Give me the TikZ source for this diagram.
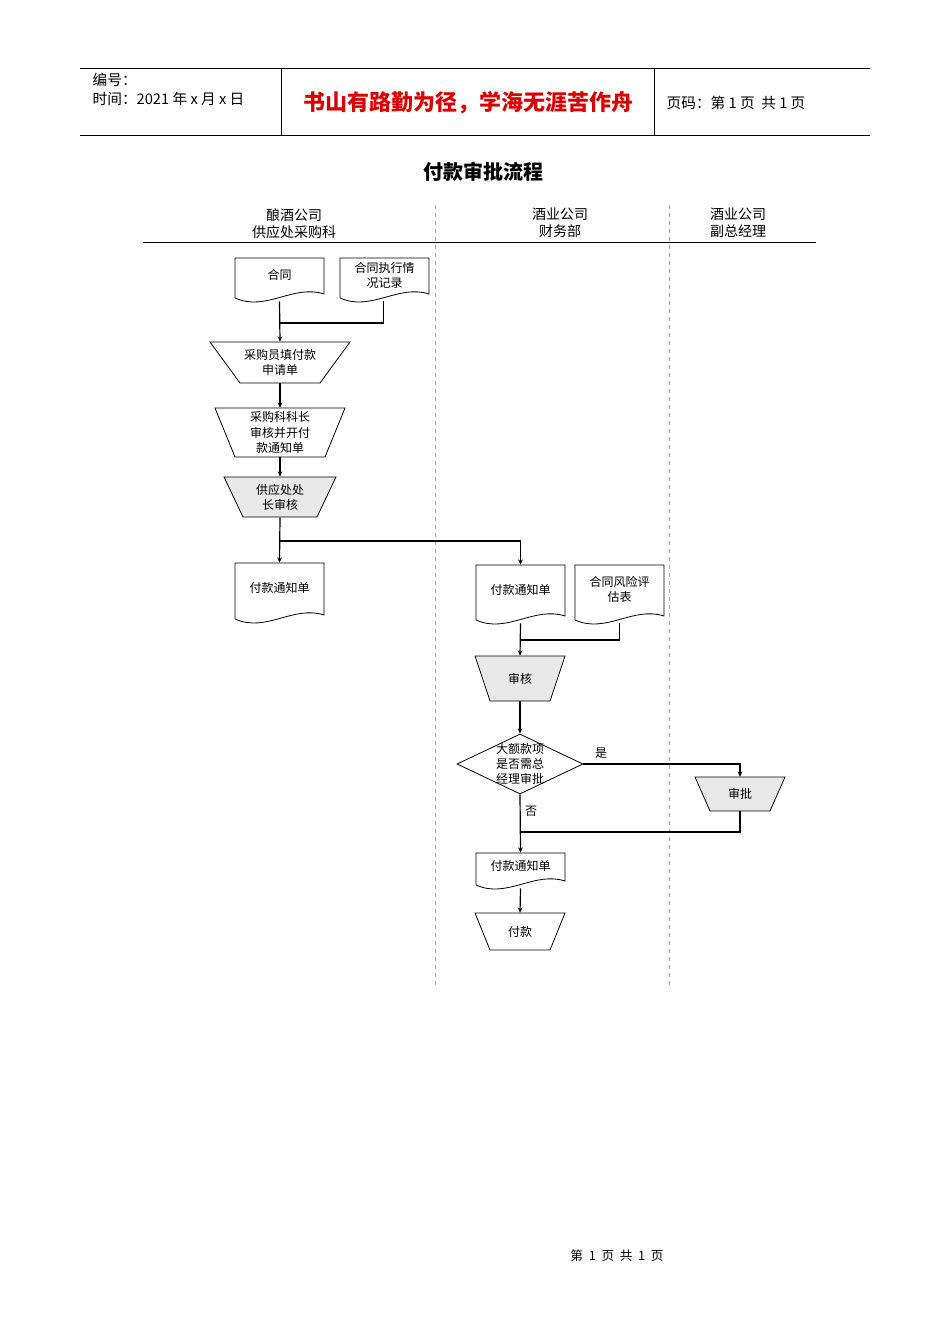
\documentclass[tikz,border=0pt]{standalone}
\usepackage{fontspec}
\setmainfont{Noto Sans CJK SC}
\usetikzlibrary{arrows.meta,shapes.geometric}
\definecolor{shade}{RGB}{232,232,232}
\tikzset{
  box/.style={inner sep=0pt,align=center,font=\fontsize{9}{11.3}\selectfont},
  outline/.style={draw=black,line width=0.6pt},
  conn/.style={draw=black,line width=0.9pt},
  arr/.style={conn,-{Stealth[length=4pt,width=3.5pt]}},
  lane/.style={draw=gray!70,dashed,line width=0.5pt},
  hdr/.style={align=center,font=\fontsize{10.5}{12.5}\selectfont},
}
% doc: name x1 y1 x2 y2 text
\newcommand\mydoc[6]{%
  \path[outline,fill=white] (#2,#3) -- (#4,#3) -- (#4,#5-8)
    .. controls ({#2+0.65*(#4-#2)},#5-18) and ({#2+0.35*(#4-#2)},#5+10) .. (#2,#5-4) -- cycle;
  \node[box,minimum width={(#4-#2)*0.75pt},minimum height={(#5-#3-1)*0.75pt}] (#1) at ({(#2+#4)/2},{(#3+#5-1)/2}) {};
  \node[box] at ({(#2+#4)/2},{(#3+#5)/2-5}) {#6};}
% trap: name cx ytop ybot halftop halfbot fill text
\newcommand\mytrap[8]{%
  \path[outline,fill=#7] (#2-#5,#3) -- (#2+#5,#3) -- (#2+#6,#4) -- (#2-#6,#4) -- cycle;
  \node[box,minimum width={2*#6*0.75pt},minimum height={(#4-#3)*0.75pt}] (#1) at (#2,{(#3+#4)/2}) {#8};}
\begin{document}
\begin{tikzpicture}[x=0.75pt,y=-0.75pt]
\useasboundingbox (0,0) rectangle (950,1344);
% header
\draw[line width=0.5pt] (80,68) -- (870,68) (80,135) -- (870,135) (281,68) -- (281,135) (654,68) -- (654,135);
\node[anchor=west,font=\fontsize{11}{13}\selectfont] (h1) at (88,80) {编号：};
\node[anchor=west,font=\fontsize{11}{13}\selectfont] (h2) at (88,99) {时间：2021 年 x 月 x 日};
\node[font=\fontsize{16.5}{19}\selectfont\bfseries,text=red!85!black] (h3) at (468,103) {书山有路勤为径，学海无涯苦作舟};
\node[anchor=west,font=\fontsize{11}{13}\selectfont] (h4) at (662,103) {页码：第 1 页\ \ 共 1 页};
\node[font=\fontsize{15}{18}\selectfont\bfseries] (title) at (483,172) {付款审批流程};
% lanes
\node[hdr] (l1) at (294,224) {酿酒公司\\供应处采购科};
\node[hdr] (l2) at (560,223) {酒业公司\\财务部};
\node[hdr] (l3) at (738,223) {酒业公司\\副总经理};
\draw[line width=0.6pt] (143,242) -- (816,242);
\draw[lane] (435,205) -- (435,988);
\draw[lane] (669,205) -- (669,988);
% shapes
\mydoc{ht}{235}{258}{324}{302}{合同}
\mydoc{zx}{340}{258}{429}{302}{合同执行情\\况记录}
\mytrap{sq}{280}{342}{383}{70}{40}{white}{采购员填付款\\申请单}
\mytrap{kz}{280}{408}{457}{65}{45}{white}{采购科科长\\审核并开付\\款通知单}
\mytrap{cz}{280}{477}{517}{56}{37}{shade}{供应处处\\长审核}
\mydoc{tz1}{235}{563}{324}{623}{付款通知单}
\mydoc{tz2}{476}{565}{565}{624}{付款通知单}
\mydoc{fx}{575}{565}{664}{624}{合同风险评\\估表}
\mytrap{sh}{520}{656}{701}{45}{30}{shade}{审核}
\node[diamond,draw,line width=0.6pt,fill=white,aspect=2.1,minimum width=126*0.75pt,minimum height=60*0.75pt,inner sep=0pt] (dm) at (520,764) {};
\node[box] (dmt) at (520,764) {大额款项\\是否需总\\经理审批};
\mytrap{sp}{740}{777}{811}{45}{30}{shade}{审批}
\mydoc{tz3}{476}{853}{565}{889}{付款通知单}
\mytrap{fk}{520}{913}{950}{45}{30}{white}{付款}
% connectors
\coordinate (j1) at (280,323);
\draw[arr] (ht.south) -- (sq.north);
\draw[conn] ([xshift=-0.5pt]zx.south) |- (j1);
\draw[arr] (sq.south) -- (kz.north);
\draw[arr] (kz.south) -- (cz.north);
\draw[arr] (cz.south) -- (tz1.north);
\coordinate (j2) at (280,541);
\draw[arr] (j2) -| (tz2.north);
\coordinate (j3) at (520,640);
\draw[conn] (fx.south) |- (j3);
\draw[arr] (tz2.south) -- (sh.north);
\draw[arr] (sh.south) -- (dm.north);
\draw[arr] (dm.east) -| (sp.north);
\node[font=\fontsize{9}{11}\selectfont] (yes) at (601,753) {是};
\node[font=\fontsize{9}{11}\selectfont] (no) at (531,811) {否};
\draw[arr] (dm.south) -- (tz3.north);
\coordinate (j4) at (520,832);
\draw[conn] (sp.south) |- (j4);
\draw[arr] (tz3.south) -- (fk.north);
% footer
\node[font=\fontsize{9.5}{11}\selectfont] (ft) at (617,1256) {第\ \ 1\ \ 页\ \ 共\ \ 1\ \ 页};
\end{tikzpicture}
\end{document}
